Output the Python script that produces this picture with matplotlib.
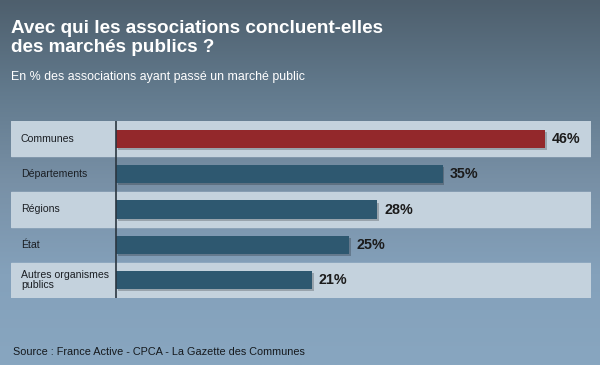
import numpy as np
import matplotlib.pyplot as plt
import matplotlib.patheffects as pe
from matplotlib.colors import LinearSegmentedColormap

plt.rcParams['font.family'] = ['Liberation Sans', 'DejaVu Sans']

# données
categories = ['Communes', 'Départements', 'Régions', 'État', 'Autres organismes\npublics']
values = [46, 35, 28, 25, 21]
bar_colors = ['#93282b', '#2e5870', '#2e5870', '#2e5870', '#2e5870']

title = 'Avec qui les associations concluent-elles\ndes marchés publics ?'
subtitle = 'En % des associations ayant passé un marché public'
source = 'Source : France Active - CPCA - La Gazette des Communes'

fig = plt.figure(figsize=(6, 3.65), dpi=100)

# fond en dégradé vertical
bg = fig.add_axes([0, 0, 1, 1])
cmap = LinearSegmentedColormap.from_list('bg', ['#4e5f6d', '#627a8d', '#7890a6', '#84a1bb', '#88a6c0'])
grad = np.linspace(0, 1, 256).reshape(-1, 1)
bg.imshow(grad, aspect='auto', cmap=cmap, extent=[0, 1, 0, 1], origin='upper')
bg.set_axis_off()

# zone du graphique (x=0 à 116 px)
ax = fig.add_axes([11 / 600, 1 - 298 / 365, 580 / 600, 177 / 365])
ax.patch.set_alpha(0)
px = 9.33
ax.set_xlim(-105 / px, 475 / px)
ax.set_ylim(len(categories) - 0.5, -0.5)

for i in range(len(categories)):
    if i % 2 == 0:
        ax.axhspan(i - 0.5, i + 0.5, color='#c4d2dd', zorder=0)

bars = ax.barh(range(len(values)), values, height=0.51, color=bar_colors, zorder=2)
for b in bars:
    b.set_path_effects([pe.SimplePatchShadow(offset=(1.2, -1.5), shadow_rgbFace='k', alpha=0.22),
                        pe.Normal()])

ax.axvline(0, color='#2b3640', lw=1.2, zorder=3)

for i, (cat, v) in enumerate(zip(categories, values)):
    ax.text(-10.2, i, cat, ha='left', va='center', fontsize=7.6, color='#1b1f24',
            linespacing=1.0)
    ax.text(v + 0.75, i, f'{v}%', ha='left', va='center', fontsize=10.3,
            fontweight='bold', color='#1b1b1b')

ax.set_axis_off()

fig.text(11 / 600, 1 - 38 / 365, title, ha='left', va='center', fontsize=13.6,
         fontweight='bold', color='white', linespacing=1.1)
fig.text(11 / 600, 1 - 77 / 365, subtitle, ha='left', va='center', fontsize=8.9, color='white')
fig.text(13 / 600, 1 - 352 / 365, source, ha='left', va='center', fontsize=7.8, color='#15191d')

fig.savefig('out.png', dpi=100)
